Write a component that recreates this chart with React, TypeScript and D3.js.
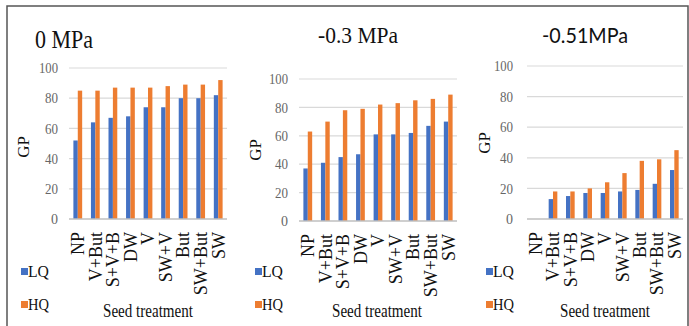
import * as d3 from 'd3';

const categories = ['NP', 'V+But', 'S+V+B', 'DW', 'V', 'SW+V', 'But', 'SW+But', 'SW'];
const lq0 = [52, 64, 67, 68, 74, 74, 80, 80, 82];
const hq0 = [85, 85, 87, 87, 87, 88, 89, 89, 92];
const lq03 = [37, 41, 45, 47, 61, 61, 62, 67, 70];
const hq03 = [63, 70, 78, 79, 82, 83, 85, 86, 89];
const lq051 = [0, 13, 15, 17, 17, 18, 19, 23, 32];
const hq051 = [0, 18, 18, 20, 24, 30, 38, 39, 45];
const yTicks = [0, 20, 40, 60, 80, 100];
const seriesNames = ['LQ', 'HQ'];
const titles = ['0 MPa', '-0.3 MPa', '-0.51MPa'];

const colors = ['#4472C4', '#ED7D31'];
const serif = 'Liberation Serif';
const sans = 'Lato';

// layout of each panel (pixels)
const panels = [
  { title: titles[0], lq: lq0, hq: hq0, x0: 69, x1: 227, yTop: 68, yBase: 219,
    titleX: 35, titleY: 48, titleW: 58, titleSize: 26, titleFont: serif,
    tickX: 58, gpX: 23, gpY: 147, legX: 21, seedX: 103 },
  { title: titles[1], lq: lq03, hq: hq03, x0: 299, x1: 457, yTop: 79, yBase: 221,
    titleX: 318, titleY: 43, titleW: 80, titleSize: 24, titleFont: serif,
    tickX: 288, gpX: 255, gpY: 150, legX: 255, seedX: 332 },
  { title: titles[2], lq: lq051, hq: hq051, x0: 527, x1: 683, yTop: 66, yBase: 219,
    titleX: 542, titleY: 43, titleW: 86, titleSize: 22, titleFont: sans,
    tickX: 513, gpX: 484, gpY: 143, legX: 486, seedX: 560 },
];

const Panel = ({ p }: { p: any }) => {
  const x = d3.scaleBand().domain(categories).range([p.x0, p.x1]).paddingInner(0.5).paddingOuter(0.25);
  const xs = d3.scaleBand().domain(seriesNames).range([0, x.bandwidth()]);
  const y = d3.scaleLinear().domain([0, 100]).range([p.yBase, p.yTop]);
  const series = [p.lq, p.hq];
  return (
    <g>
      <text x={p.titleX} y={p.titleY} style={{ fontFamily: p.titleFont }} fontSize={p.titleSize}
        textLength={p.titleW} lengthAdjust="spacingAndGlyphs" fill="#111">{p.title}</text>
      {yTicks.map((t) => (
        <g key={t}>
          {t > 0 && <line x1={p.x0} x2={p.x1} y1={y(t)} y2={y(t)} stroke="#d9d9d9" strokeWidth={1.2} />}
          <text x={p.tickX} y={y(t)} dy="0.35em" textAnchor="end" style={{ fontFamily: serif }} fontSize={15}
            textLength={t === 100 ? 19 : t === 0 ? 7 : 13} lengthAdjust="spacingAndGlyphs"
            fill="#666">{t}</text>
        </g>
      ))}
      {series.map((vals: number[], si: number) =>
        categories.map((c, i) => (
          <rect key={si + c} x={(x(c) as number) + (xs(seriesNames[si]) as number)} width={xs.bandwidth()}
            y={y(vals[i])} height={y(0) - y(vals[i])} fill={colors[si]} />
        ))
      )}
      <line x1={p.x0} x2={p.x1} y1={y(0)} y2={y(0)} stroke="#bfbfbf" strokeWidth={1.5} />
      {categories.map((c) => (
        <text key={c} transform={`translate(${(x(c) as number) + x.bandwidth() / 2},${p.yBase + 13}) rotate(-90)`}
          textAnchor="end" dy="0.35em" style={{ fontFamily: serif }} fontSize={18} fill="#111">{c}</text>
      ))}
      <text transform={`translate(${p.gpX},${p.gpY}) rotate(-90)`} textAnchor="middle" dy="0.35em"
        style={{ fontFamily: serif }} fontSize={17} fill="#111">GP</text>
      {seriesNames.map((s, si) => (
        <g key={s}>
          <rect x={p.legX} y={268 + si * 33} width={7} height={7} fill={colors[si]} />
          <text x={p.legX + 7} y={277 + si * 33} style={{ fontFamily: serif }} fontSize={17}
            textLength={21} lengthAdjust="spacingAndGlyphs" fill="#111">{s}</text>
        </g>
      ))}
      <text x={p.seedX} y={317} style={{ fontFamily: serif }} fontSize={19} textLength={90}
        lengthAdjust="spacingAndGlyphs" fill="#111">Seed treatment</text>
    </g>
  );
};

export default function App() {
  return (
    <svg width={689} height={326} style={{ position: 'absolute', left: 0, top: 0, background: '#fff' }}>
      <rect x={7} y={6} width={681} height={340} fill="none" stroke="#555" strokeWidth={1.5} />
      {panels.map((p) => (
        <Panel key={p.title} p={p} />
      ))}
    </svg>
  );
}
